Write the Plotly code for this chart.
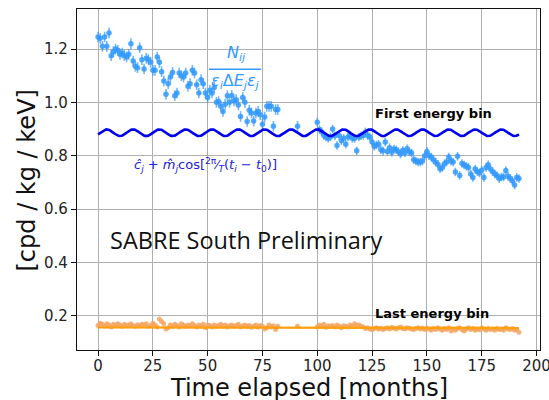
import numpy as np
import plotly.graph_objects as go

# ---------------- data ----------------
t_months = list(range(0, 83)) + [91] + list(range(100, 193))

first_bin = [
    1.245, 1.240, 1.210, 1.245, 1.210, 1.260, 1.175, 1.190, 1.200, 1.195,
    1.180, 1.185, 1.175, 1.170, 1.180, 1.220, 1.155, 1.135, 1.130, 1.205,
    1.160, 1.125, 1.165, 1.160, 1.150, 1.120, 1.120, 1.170, 1.150, 1.115,
    1.080, 1.030, 1.070, 1.095, 1.112, 1.025, 1.035, 1.110, 1.100, 1.095,
    1.110, 1.060, 1.070, 1.120, 1.110, 1.066, 1.035, 1.085, 1.070, 1.035,
    1.018, 1.045, 1.035, 1.056, 1.000, 1.003, 0.985, 0.966, 0.993, 1.025,
    1.000, 1.026, 1.005, 1.010, 0.990, 0.947, 1.018, 1.000, 0.928, 0.970,
    0.960, 0.930, 0.960, 0.966, 0.953, 0.918, 0.945, 0.985, 0.985, 0.985,
    0.910, 0.973, 0.973,
    0.910,
    0.925, 0.898, 0.890, 0.876, 0.870, 0.865, 0.870, 0.900, 0.875, 0.838,
    0.876, 0.856, 0.865, 0.843, 0.870, 0.876, 0.865, 0.864, 0.818, 0.870,
    0.875, 0.876, 0.889, 0.875, 0.870, 0.851, 0.835, 0.840, 0.843, 0.822,
    0.818, 0.851, 0.816, 0.830, 0.813, 0.825, 0.822, 0.815, 0.806, 0.820,
    0.810, 0.826, 0.815, 0.810, 0.785, 0.780, 0.776, 0.776, 0.780, 0.800,
    0.816, 0.800, 0.795, 0.785, 0.775, 0.768, 0.751, 0.755, 0.770, 0.776,
    0.795, 0.780, 0.776, 0.739, 0.798, 0.726, 0.771, 0.765, 0.760, 0.756,
    0.731, 0.718, 0.750, 0.740, 0.735, 0.745, 0.718, 0.756, 0.766, 0.750,
    0.740, 0.731, 0.725, 0.714, 0.720, 0.720, 0.744, 0.723, 0.715, 0.706,
    0.690, 0.718, 0.714,
]

last_bin = [
    0.163, 0.172, 0.168, 0.160, 0.170, 0.165, 0.158, 0.168, 0.163, 0.170,
    0.165, 0.160, 0.168, 0.163, 0.165, 0.170, 0.162, 0.160, 0.166, 0.163,
    0.168, 0.165, 0.170, 0.160, 0.163, 0.172, 0.165, 0.158, 0.188, 0.178,
    0.170, 0.150, 0.155, 0.165, 0.160, 0.168, 0.163, 0.158, 0.170, 0.165,
    0.160, 0.165, 0.162, 0.170, 0.163, 0.158, 0.165, 0.160, 0.168, 0.155,
    0.165, 0.163, 0.158, 0.165, 0.160, 0.163, 0.168, 0.160, 0.165, 0.158,
    0.162, 0.165, 0.160, 0.163, 0.168, 0.158, 0.162, 0.165, 0.160, 0.163,
    0.157, 0.160, 0.165, 0.158, 0.163, 0.160, 0.150, 0.155, 0.165, 0.158,
    0.162, 0.148, 0.160,
    0.160,
    0.158, 0.165, 0.160, 0.168, 0.157, 0.162, 0.160, 0.163, 0.158, 0.165,
    0.160, 0.155, 0.162, 0.160, 0.158, 0.165, 0.160, 0.170, 0.163, 0.165,
    0.160, 0.158, 0.152, 0.155, 0.150, 0.148, 0.152, 0.155, 0.150, 0.153,
    0.148, 0.152, 0.155, 0.150, 0.157, 0.153, 0.150, 0.155, 0.158, 0.152,
    0.150, 0.155, 0.153, 0.150, 0.148, 0.152, 0.155, 0.150, 0.153, 0.148,
    0.152, 0.150, 0.145, 0.152, 0.148, 0.155, 0.150, 0.145, 0.152, 0.148,
    0.155, 0.143, 0.150, 0.145, 0.152, 0.155, 0.148, 0.143, 0.150, 0.155,
    0.148, 0.152, 0.145, 0.150, 0.147, 0.155, 0.150, 0.145, 0.152, 0.148,
    0.150, 0.145, 0.152, 0.148, 0.150, 0.145, 0.155, 0.150, 0.148, 0.152,
    0.145, 0.148, 0.138,
]

first_err = [0.02] * 84 + [0.016] * 93
last_err = [0.006] * len(t_months)

# modulation fit of the first energy bin: c + m*cos(2*pi/T*(t - t0))
fit_c, fit_m, fit_T, fit_t0 = 0.886, 0.0125, 12.0, 4.0
fit_span = [0, 192]

# flat fit of the last energy bin
last_fit_t = [0, 192]
last_fit_v = [0.156, 0.154]

x_ticks = [0, 25, 50, 75, 100, 125, 150, 175, 200]
y_ticks = [0.2, 0.4, 0.6, 0.8, 1.0, 1.2]

# ---------------- figure ----------------
fig = go.Figure()

fig.add_trace(go.Scatter(
    x=t_months, y=first_bin, mode="markers",
    error_y=dict(type="data", array=first_err, color="rgba(51,153,255,0.7)",
                 thickness=1.6, width=0),
    marker=dict(size=5.5, color="rgba(51,153,255,0.85)"),
    showlegend=False))

fig.add_trace(go.Scatter(
    x=t_months, y=last_bin, mode="markers",
    error_y=dict(type="data", array=last_err, color="rgba(244,164,96,0.7)",
                 thickness=1.4, width=0),
    marker=dict(size=5, color="rgba(244,164,96,0.8)"),
    showlegend=False))

tt = np.linspace(fit_span[0], fit_span[1], 800)
fig.add_trace(go.Scatter(
    x=tt, y=fit_c + fit_m * np.cos(2 * np.pi / fit_T * (tt - fit_t0)),
    mode="lines", line=dict(color="#0000ee", width=2.6), showlegend=False))

fig.add_trace(go.Scatter(
    x=last_fit_t, y=last_fit_v, mode="lines",
    line=dict(color="#ffa010", width=2.4), showlegend=False))

tick_font = dict(family="DejaVu Sans", size=15, color="#222222")

fig.update_xaxes(
    range=[-9.6, 201.6], tickvals=x_ticks, ticktext=[str(v) for v in x_ticks],
    showgrid=True, gridcolor="#b0b0b0", gridwidth=1, zeroline=False,
    showline=True, linecolor="#111111", linewidth=1.2, mirror=True,
    ticks="outside", ticklen=5, tickcolor="#111111", tickfont=tick_font,
    ticklabelstandoff=-3, ticklabeloverflow="allow", automargin=False)
fig.update_yaxes(
    range=[0.0713, 1.350], tickvals=y_ticks, ticktext=[f"{v:.1f}" for v in y_ticks],
    showgrid=True, gridcolor="#b0b0b0", gridwidth=1, zeroline=False,
    showline=True, linecolor="#111111", linewidth=1.2, mirror=True,
    ticks="outside", ticklen=5, tickcolor="#111111", tickfont=tick_font,
    automargin=False)

annotations = [
    # axis titles
    dict(text="[cpd / kg / keV]", xref="paper", yref="paper", x=0, y=0.497,
         xshift=-50, textangle=-90, showarrow=False, xanchor="center", yanchor="middle",
         font=dict(family="DejaVu Sans", size=24, color="#111111")),
    dict(text="Time elapsed [months]", xref="paper", yref="paper", x=0.5, y=0,
         yshift=-38, showarrow=False, xanchor="center", yanchor="middle",
         font=dict(family="DejaVu Sans", size=24, color="#111111")),
    # texts inside the plot
    dict(text="SABRE South Preliminary", xref="x", yref="y", x=4.5, y=0.482,
         showarrow=False, xanchor="left", yanchor="middle",
         font=dict(family="Open Sans", size=23.5, color="#111111")),
    dict(text="<b>First energy bin</b>", xref="x", yref="y", x=125.4, y=0.958,
         showarrow=False, xanchor="left", yanchor="middle",
         font=dict(family="DejaVu Sans", size=13, color="#000000")),
    dict(text="<b>Last energy bin</b>", xref="x", yref="y", x=125.4, y=0.209,
         showarrow=False, xanchor="left", yanchor="middle",
         font=dict(family="DejaVu Sans", size=13, color="#000000")),
    # measured-rate fraction
    dict(text="<i>N</i><sub><i>ij</i></sub>", xref="x", yref="y", x=63.3, y=1.183,
         showarrow=False, xanchor="center", yanchor="middle",
         font=dict(family="DejaVu Sans", size=16, color="#3399ff")),
    dict(text="<i>ε</i><sub><i>i</i></sub>Δ<i>E</i><sub><i>j</i></sub><i>ε</i><sub><i>j</i></sub>",
         xref="x", yref="y", x=62.5, y=1.080,
         showarrow=False, xanchor="center", yanchor="middle",
         font=dict(family="DejaVu Sans", size=16, color="#3399ff")),
    # model formula
    dict(text="<i>ĉ</i><sub><i>j</i></sub> + <i>m̂</i><sub><i>j</i></sub>cos[<sup>2π</sup>⁄<sub><i>T</i></sub>(<i>t</i><sub><i>i</i></sub> − <i>t</i><sub>0</sub>)]",
         xref="x", yref="y", x=48.8, y=0.764,
         showarrow=False, xanchor="center", yanchor="middle",
         font=dict(family="DejaVu Sans", size=13, color="#2020e0")),
]

fig.update_layout(
    width=549, height=400,
    margin=dict(l=77, r=9, t=9, b=50, autoexpand=False),
    paper_bgcolor="white", plot_bgcolor="white",
    annotations=annotations,
    shapes=[dict(type="line", xref="x", yref="y", x0=50.6, x1=74.3, y0=1.124, y1=1.124,
                 line=dict(color="#3399ff", width=1.5))],
)

fig.write_html("out.html")
